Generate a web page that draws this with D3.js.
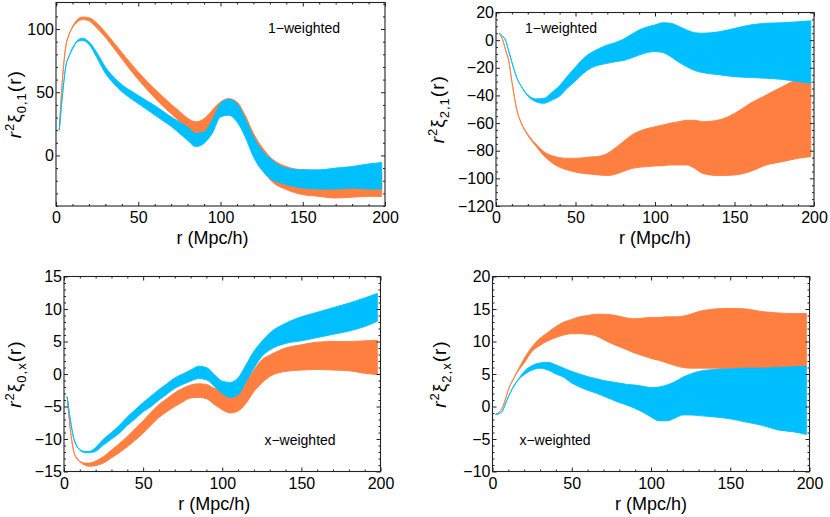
<!DOCTYPE html>
<html><head><meta charset="utf-8">
<script src="https://cdn.jsdelivr.net/npm/d3@7/dist/d3.min.js"></script>
<style>
body{margin:0;background:#fff}
svg{display:block}
text{font-family:"Liberation Sans",Arial,Helvetica,sans-serif;fill:#000}
</style>
</head><body>
<svg id="chart" width="830" height="517"></svg>
<script>
// shared r grid (Mpc/h)
const rGrid = [2,4,6,8,10,13,16,20,25,30,35,40,45,50,55,60,65,70,75,80,85,90,95,100,105,110,115,120,125,130,140,150,160,170,180,190,198];

// Panel 1: r^2 xi_{0,1}
const p1OrangeHi = [20,62,87,96,102,107.5,109.5,109,104.5,97.5,89.5,81.5,73.5,66,59,52.5,46.5,40.5,35,29.5,26.6,29,35.8,42.3,45,42.3,31.8,17.5,7,-1,-8.8,-11.4,-12,-12,-12,-13,-13];
const p1OrangeLo = [20,61,86,95.5,101,105.5,107.5,106.5,100.5,93.5,85,76.5,68,60,52.5,45.5,39,33,27,21.4,16,17.5,25.3,31.8,33,30.5,18.7,3,-10,-19,-27,-31,-32.4,-33.7,-33,-32.4,-32.4];
const p1BlueHi = [20,49,71,79,85,91,92.8,90,81,70,62,56,51.5,47.5,43.5,39.5,35,30.5,26.5,22.5,17.5,18.7,28,41,44.4,41,29.2,14.8,4.3,-2.2,-10,-11.4,-11.4,-10,-8.8,-6.7,-5.6];
const p1BlueLo = [20,48.5,70.5,78.5,84,90,91,88,77,65,57,50.5,45.5,41,36.5,32,27.5,23,17.5,12,7,9.6,17.5,30.5,31.8,26.6,14.8,-1,-11.4,-18,-23,-25.8,-26.6,-26.6,-25.8,-26.6,-26.6];

// Panel 2: r^2 xi_{2,1}
const p2OrangeHi = [5,1,-7,-15,-30,-50,-60,-68,-75,-80.5,-83.5,-85,-85.5,-85.5,-85,-84.5,-84,-82,-78,-73.5,-69,-66,-64,-62.6,-61.4,-60,-59,-58,-58,-59,-57.8,-53,-45.7,-39.7,-33.7,-29,-30];
const p2OrangeLo = [5,1,-7,-15,-30,-50,-60.5,-69,-76.5,-83.5,-88.5,-92,-94,-95.5,-96.5,-97,-97.6,-98,-97,-95,-93,-92,-91.5,-91,-90.8,-90.3,-90.3,-90.3,-92.8,-96.4,-98,-97.6,-95,-90.3,-88,-85.5,-84.3];
const p2BlueHi = [5,3,0,-8,-16,-27,-33.5,-39.5,-42.5,-42.2,-38,-33,-26,-19.5,-13.2,-9,-6,-3.5,-1.8,0.6,4,7.3,9.5,11,12.6,12.2,10,7.3,5.4,5,6,8.5,11,12.2,12.6,13.3,14];
const p2BlueLo = [5,3,0,-8,-16,-27,-33.8,-40.5,-44.5,-45.7,-43.5,-40.5,-34.5,-29.5,-24,-20,-18,-16.8,-15.6,-14.8,-13,-10.8,-9,-8.3,-9,-12,-16,-19.2,-22,-23.5,-25,-26.4,-27,-27.6,-28.4,-30,-31.3];

// Panel 3: r^2 xi_{0,x}
const p3OrangeHi = [-3.5,-8.5,-11.7,-12.9,-13.4,-13.7,-13.7,-13.4,-12.7,-11.7,-10.7,-9.6,-8.4,-7.2,-5.9,-4.7,-3.8,-2.9,-2.2,-1.7,-1.5,-1.6,-2.2,-2.6,-2.9,-2.7,-1.2,0.6,2.2,2.9,4.0,4.5,4.9,5.0,5.0,5.1,5.2];
const p3OrangeLo = [-3.5,-8.5,-11.8,-13,-13.5,-14,-14.2,-14.1,-13.7,-12.9,-12.1,-11.2,-10.2,-9.1,-7.9,-6.7,-5.8,-5.0,-4.3,-3.7,-3.6,-3.8,-4.7,-5.5,-6.0,-5.7,-4.5,-2.7,-1.4,-0.4,0.4,0.6,0.7,0.6,0.5,0.1,-0.1];
const p3BlueHi = [-3.5,-7,-9.7,-11,-11.6,-11.9,-11.9,-11.3,-10,-9,-7.9,-6.6,-5.5,-4.4,-3.4,-2.4,-1.5,-0.6,0,0.6,1.2,1.0,-0.1,-1.1,-1.3,-0.6,1.4,3.5,5,6.3,7.8,8.8,9.5,10.2,10.9,11.7,12.4];
const p3BlueLo = [-3.5,-7,-9.8,-11.1,-11.7,-12.1,-12.1,-11.9,-10.9,-10,-9.1,-7.9,-6.9,-5.8,-5.0,-4.0,-3.1,-2.2,-1.6,-1.1,-0.7,-0.9,-1.9,-3.0,-3.6,-3.2,-1.2,0.9,2.7,3.7,4.7,5.1,5.6,6.1,6.6,7.3,8.1];

// Panel 4: r^2 xi_{2,x}
const p4OrangeHi = [-1.2,-0.9,-0.3,1,2.6,4.2,5.6,7.4,9.2,10.5,11.4,12.3,13,13.4,13.8,14.0,14.2,14.2,14.1,13.9,13.6,13.5,13.6,13.7,13.7,13.8,13.8,13.9,14.2,14.6,15.0,15.1,15.0,14.6,14.4,14.3,14.3];
const p4OrangeLo = [-1.2,-0.9,-0.3,1,2.6,4.1,5.4,6.7,8.5,9.4,10.1,10.6,11,11.2,11.2,11.1,10.9,10.3,9.7,9.2,8.7,8.2,7.8,7.4,7.1,6.7,6.3,6.0,5.9,5.9,5.9,5.8,5.8,5.8,5.9,6.0,6.2];
const p4BlueHi = [-1.2,-1.1,-0.8,0.3,1.5,3,4.1,5.4,6.3,6.7,6.8,6.4,5.9,5.4,5.0,4.6,4.3,4.0,3.8,3.6,3.4,3.3,3.1,2.9,3.0,3.3,3.8,4.5,5.0,5.4,5.7,5.8,5.9,5.9,6.0,6.1,6.2];
const p4BlueLo = [-1.2,-1.1,-0.8,0.3,1.5,2.9,4,4.9,5.6,5.9,5.6,5.0,4.5,3.6,3.0,2.5,2.1,1.6,1.1,0.6,0.2,-0.3,-0.9,-1.6,-2.2,-2.2,-1.8,-1.3,-1.3,-1.4,-1.6,-1.9,-2.4,-2.9,-3.6,-3.9,-4.3];

// tick values
const xMajorTicks = [0,50,100,150,200];
const p1YTicks = [0,50,100];
const p2YTicks = [-120,-100,-80,-60,-40,-20,0,20];
const p3YTicks = [-15,-10,-5,0,5,10,15];
const p4YTicks = [-10,-5,0,5,10,15,20];

const ORANGE = "#ff7f41", BLUE = "#00bfff";

const panels = [
  {l:56, r:385, t:2.5, b:206, y:[-40,121], yt:p1YTicks, ym:10, sub:"0,1", note:"1\u2212weighted", nx:304, ny:33,
   oHi:p1OrangeHi, oLo:p1OrangeLo, bHi:p1BlueHi, bLo:p1BlueLo, ylx:21, xlo:-8},
  {l:496, r:814, t:12.5, b:206, y:[-120,20], yt:p2YTicks, ym:5, sub:"2,1", note:"1\u2212weighted", nx:561, ny:33,
   oHi:p2OrangeHi, oLo:p2OrangeLo, bHi:p2BlueHi, bLo:p2BlueLo, ylx:444, xlo:0},
  {l:64, r:380.5, t:276.5, b:471.5, y:[-15,15], yt:p3YTicks, ym:1, sub:"0,x", note:"x\u2212weighted", nx:300, ny:445,
   oHi:p3OrangeHi, oLo:p3OrangeLo, bHi:p3BlueHi, bLo:p3BlueLo, ylx:21, xlo:-8},
  {l:492.5, r:809.5, t:276.5, b:471.5, y:[-10,20], yt:p4YTicks, ym:1, sub:"2,x", note:"x\u2212weighted", nx:555, ny:445,
   oHi:p4OrangeHi, oLo:p4OrangeLo, bHi:p4BlueHi, bLo:p4BlueLo, ylx:446, xlo:0}
];

const svg = d3.select("#chart");
const fmt = d => d < 0 ? "\u2212" + Math.abs(d) : String(d);

panels.forEach((p, pi) => {
  const x = d3.scaleLinear().domain([0,200]).range([p.l, p.r]);
  const y = d3.scaleLinear().domain(p.y).range([p.b, p.t]);
  const g = svg.append("g");

  const clipId = "clip" + pi;
  svg.append("clipPath").attr("id", clipId).append("rect")
    .attr("x", p.l).attr("y", p.t).attr("width", p.r - p.l).attr("height", p.b - p.t);

  const mk = (hi, lo) => rGrid.map((r, i) => ({r, hi: hi[i], lo: lo[i]}));
  const area = d3.area().x(d => x(d.r)).y0(d => y(d.lo)).y1(d => y(d.hi)).curve(d3.curveMonotoneX);
  const plot = g.append("g").attr("clip-path", `url(#${clipId})`);
  [[mk(p.oHi, p.oLo), ORANGE], [mk(p.bHi, p.bLo), BLUE]].forEach(([data, col]) => {
    plot.append("path").datum(data).attr("d", area)
      .attr("fill", col).attr("stroke", col).attr("stroke-width", 0.9).attr("stroke-linejoin", "round");
  });

  const xMinor = d3.range(0, 201, 10).filter(v => v % 50 !== 0);
  const yMinor = d3.range(Math.ceil(p.y[0] / p.ym) * p.ym, p.y[1] + 1e-9, p.ym).filter(v => !p.yt.includes(v));

  const axes = [
    [d3.axisBottom(x), `translate(0,${p.b})`, true],
    [d3.axisTop(x), `translate(0,${p.t})`, false],
  ];
  axes.forEach(([ax, tr, lab]) => {
    g.append("g").attr("transform", tr).attr("class", "ax")
      .call(ax.tickValues(xMajorTicks).tickSize(-4).tickPadding(6).tickFormat(lab ? fmt : ""));
    g.append("g").attr("transform", tr).attr("class", "ax")
      .call(ax.tickValues(xMinor).tickSize(-2).tickFormat(""));
  });
  const yaxes = [
    [d3.axisLeft(y), `translate(${p.l},0)`, true],
    [d3.axisRight(y), `translate(${p.r},0)`, false],
  ];
  yaxes.forEach(([ax, tr, lab]) => {
    g.append("g").attr("transform", tr).attr("class", "ax")
      .call(ax.tickValues(p.yt).tickSize(-4).tickPadding(2).tickFormat(lab ? fmt : ""));
    g.append("g").attr("transform", tr).attr("class", "ax")
      .call(ax.tickValues(yMinor).tickSize(-2).tickFormat(""));
  });
  g.selectAll(".ax .domain").remove();
  g.selectAll(".ax line").attr("stroke", "#222").attr("stroke-width", 1);
  g.selectAll(".ax text").attr("font-size", 16).attr("font-family", "Liberation Sans, Arial, sans-serif").attr("fill", "#000");

  // frame
  g.append("rect").attr("x", p.l).attr("y", p.t).attr("width", p.r - p.l).attr("height", p.b - p.t)
    .attr("fill", "none").attr("stroke", "#222").attr("stroke-width", 1.1);

  // x label
  g.append("text").attr("x", (p.l + p.r) / 2 + p.xlo).attr("y", p.b + 38)
    .attr("text-anchor", "middle").attr("font-size", 18).text("r (Mpc/h)");

  // y label
  const yl = g.append("text").attr("transform", `translate(${p.ylx},${(p.t + p.b) / 2}) rotate(-90)`)
    .attr("text-anchor", "middle").attr("font-size", 19).attr("letter-spacing", 1);
  yl.append("tspan").attr("font-style", "italic").text("r");
  yl.append("tspan").attr("font-size", 13).attr("dy", -7).text("2");
  yl.append("tspan").attr("dy", 7).text("\u03be");
  yl.append("tspan").attr("font-size", 13).attr("dy", 5).text(p.sub);
  yl.append("tspan").attr("dy", -5).text("(r)");

  // note
  g.append("text").attr("x", p.nx).attr("y", p.ny).attr("text-anchor", "middle")
    .attr("font-size", 14).text(p.note);
});
</script>
</body></html>
